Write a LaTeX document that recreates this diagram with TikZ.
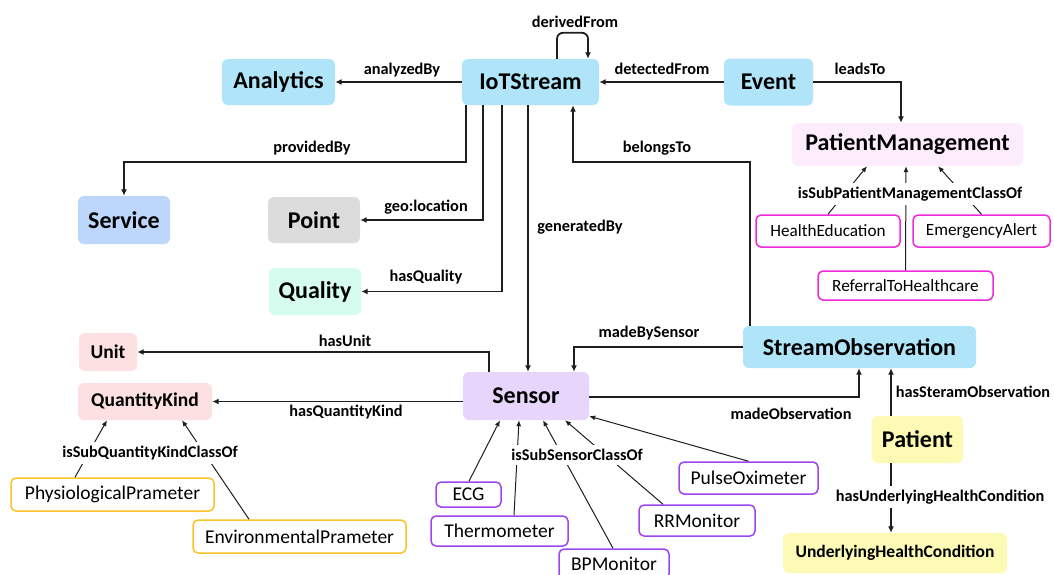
\documentclass[tikz,border=0pt]{standalone}
\usepackage{fontspec}
\setmainfont{Carlito}
\usetikzlibrary{arrows.meta}
\definecolor{cblue}{RGB}{176,228,248}
\definecolor{cserv}{RGB}{189,215,252}
\definecolor{cpoint}{RGB}{220,220,220}
\definecolor{cqual}{RGB}{213,252,238}
\definecolor{cpm}{RGB}{253,236,252}
\definecolor{cunit}{RGB}{252,224,226}
\definecolor{csens}{RGB}{231,213,252}
\definecolor{cpat}{RGB}{252,250,180}
\definecolor{cmag}{RGB}{240,40,220}
\definecolor{cpur}{RGB}{160,70,240}
\definecolor{cyel}{RGB}{250,195,40}
\definecolor{cline}{RGB}{30,30,30}
\begin{document}
\begin{tikzpicture}[x=1pt,y=-1pt,
  mainbox/.style={rounded corners=6pt, inner sep=0pt, font=\bfseries\fontsize{24}{28}\selectfont},
  smallbox/.style={rounded corners=6pt, inner sep=0pt, font=\bfseries\fontsize{19.5}{23}\selectfont},
  subbox/.style={draw, line width=1.5pt, rounded corners=5pt, fill=white, inner sep=0pt, font=\fontsize{19.5}{22}\selectfont},
  pmsub/.style={subbox, draw=cmag, font=\fontsize{17.2}{20}\selectfont},
  lbl/.style={font=\bfseries\fontsize{16.3}{19}\selectfont, inner sep=1pt},
  wlbl/.style={lbl, fill=white, inner xsep=5pt, inner ysep=4pt},
  arr/.style={draw=cline, line width=1.8pt, -{Latex[length=6.5pt,width=6pt]}},
  sarr/.style={draw=cline, line width=1pt, -{Latex[length=6pt,width=5pt]}}
]
\path[use as bounding box] (0,0) rectangle (1054,574);
\clip (0,0) rectangle (1054,574);

% main nodes
\node[mainbox, fill=cblue, minimum width=113pt, minimum height=46pt] (ana) at (278.5,82) {Analytics};
\node[mainbox, fill=cblue, minimum width=137pt, minimum height=46pt] (iot) at (530.5,82) {IoTStream};
\node[mainbox, fill=cblue, minimum width=89pt, minimum height=47pt] (event) at (768.5,82) {Event};
\node[mainbox, fill=cpm, minimum width=231pt, minimum height=43pt] (pm) at (907.5,144.5) {PatientManagement};
\node[mainbox, fill=cserv, minimum width=92pt, minimum height=48pt] (serv) at (124,220) {Service};
\node[mainbox, fill=cpoint, minimum width=92pt, minimum height=46pt] (point) at (314,220) {Point};
\node[mainbox, fill=cqual, minimum width=92pt, minimum height=47pt] (qual) at (315,291.5) {Quality};
\node[mainbox, fill=cblue, minimum width=233pt, minimum height=42pt] (so) at (859.5,347) {StreamObservation};
\node[smallbox, fill=cunit, minimum width=58pt, minimum height=38pt] (unit) at (108,352) {Unit};
\node[smallbox, fill=cunit, minimum width=134pt, minimum height=37pt] (qk) at (145,401.5) {QuantityKind};
\node[mainbox, fill=csens, minimum width=126pt, minimum height=48pt] (sensor) at (526,396) {Sensor};
\node[mainbox, fill=cpat, minimum width=91pt, minimum height=47pt] (pat) at (917.5,439.5) {Patient};
\node[mainbox, fill=cpat, minimum width=224pt, minimum height=40pt, font=\bfseries\fontsize{17.5}{21}\selectfont] (uhc) at (895,553) {UnderlyingHealthCondition};

% subclass boxes
\node[pmsub, minimum width=144pt, minimum height=32pt] (he) at (828,231) {HealthEducation};
\node[pmsub, minimum width=137pt, minimum height=32pt] (ea) at (981.5,231) {EmergencyAlert};
\node[pmsub, minimum width=175pt, minimum height=29pt] (ref) at (905.5,285.5) {ReferralToHealthcare};
\node[subbox, draw=cyel, minimum width=203pt, minimum height=33pt] (phys) at (112.5,494.5) {PhysiologicalPrameter};
\node[subbox, draw=cyel, minimum width=213pt, minimum height=33pt] (env) at (299.5,536.5) {EnvironmentalPrameter};
\node[subbox, draw=cpur, minimum width=65pt, minimum height=25pt] (ecg) at (468.5,494.5) {ECG};
\node[subbox, draw=cpur, minimum width=137pt, minimum height=30pt] (therm) at (499.5,531) {Thermometer};
\node[subbox, draw=cpur, minimum width=110pt, minimum height=30pt] (bp) at (614,564) {BPMonitor};
\node[subbox, draw=cpur, minimum width=116pt, minimum height=31pt] (rr) at (697,520.5) {RRMonitor};
\node[subbox, draw=cpur, minimum width=139pt, minimum height=32pt] (pulse) at (748.5,478) {PulseOximeter};

% main connectors
\draw[arr] (iot.west) -- (ana.east);
\node[lbl] (l-ana) at (402,70) {analyzedBy};
\draw[arr] (event.west) -- (iot.east);
\node[lbl] (l-det) at (662,69) {detectedFrom};
\draw[arr] (event.east) -| ([xshift=-6.5pt]pm.north);
\node[lbl] (l-leads) at (860,69) {leadsTo};
\draw[arr, rounded corners=6pt] ([xshift=26.5pt]iot.north) -- ++(0,-26) -| ([xshift=57.5pt]iot.north);
\node[lbl] (l-der) at (575,22) {derivedFrom};
\draw[arr] ([xshift=-64.5pt]iot.south) -- (466,162) -| (serv.north);
\node[lbl] (l-prov) at (312,148) {providedBy};
\draw[arr] ([xshift=-47.5pt]iot.south) |- (point.east);
\node[lbl] (l-geo) at (426,207) {geo:location};
\draw[arr] ([xshift=-28.5pt]iot.south) |- (qual.east);
\node[lbl] (l-qual) at (426,277) {hasQuality};
\draw[arr] ([xshift=-2.5pt]iot.south) -- ([xshift=2pt]sensor.north);
\node[lbl] (l-gen) at (580,227) {generatedBy};
\draw[arr] ([xshift=-109.5pt]so.north) -- (750,162) -| ([xshift=42.5pt]iot.south);
\node[lbl] (l-bel) at (657,148) {belongsTo};
\draw[arr] (so.west) -| ([xshift=48pt]sensor.north);
\node[lbl] (l-mbs) at (649,333) {madeBySensor};
\draw[arr] ([yshift=-1pt]sensor.east) -| ([xshift=-0.5pt]so.south);
\node[lbl] (l-mo) at (791,414) {madeObservation};
\draw[arr] ([xshift=-26.5pt]pat.north) -- ([xshift=31.5pt]so.south);
\node[lbl] (l-hso) at (973,392) {hasSteramObservation};
\draw[arr] ([xshift=-26.5pt]pat.south) -- ([xshift=-4pt]uhc.north);
\node[wlbl] (l-uhc) at (940,497) {hasUnderlyingHealthCondition};
\draw[arr] ([xshift=-37pt]sensor.north) |- (unit.east);
\node[lbl] (l-unit) at (345,341) {hasUnit};
\draw[arr] (sensor.west |- qk.east) -- (qk.east);
\node[lbl] (l-qk) at (346,412) {hasQuantityKind};

% subclass connectors
\draw[sarr] ([xshift=-37.5pt]phys.north) -- ([xshift=-38pt]qk.south);
\draw[sarr] ([xshift=-50.5pt]env.north) -- ([xshift=37pt]qk.south);
\node[wlbl] (l-sqk) at (150,453) {isSubQuantityKindClassOf};

\draw[sarr] ([xshift=0.5pt]ecg.north) -- ([xshift=-26pt]sensor.south);
\draw[sarr] ([xshift=14.5pt]therm.north) -- ([xshift=-7pt]sensor.south);
\draw[sarr] ([xshift=-1pt]bp.north) -- ([xshift=17pt]sensor.south);
\draw[sarr] ([xshift=-34pt]rr.north) -- ([xshift=39pt]sensor.south);
\draw[sarr] (pulse.north) -- ([yshift=4pt]sensor.south east);
\node[wlbl] (l-ssc) at (577,455) {isSubSensorClassOf};

\draw[sarr] (he.north) -- ([xshift=-40.5pt]pm.south);
\draw[sarr] (ea.north) -- ([xshift=30.5pt]pm.south);
\draw[sarr] (ref.north) -- ([xshift=-1.5pt]pm.south);
\node[wlbl] (l-spm) at (910,194) {isSubPatientManagementClassOf};
\end{tikzpicture}
\end{document}
